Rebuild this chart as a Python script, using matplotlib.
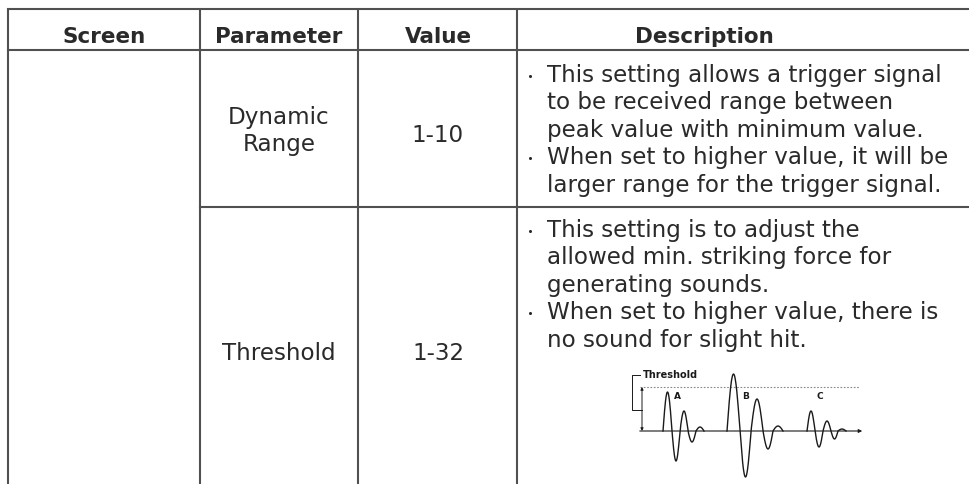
import numpy as np
import matplotlib
matplotlib.use("Agg")
import matplotlib.pyplot as plt

# table content
headers = ["Screen", "Parameter", "Value", "Description"]
param_names = ["Dynamic\nRange", "Threshold"]
param_values = ["1-10", "1-32"]
desc_row1 = [
    ["This setting allows a trigger signal",
     "to be received range between",
     "peak value with minimum value."],
    ["When set to higher value, it will be",
     "larger range for the trigger signal."],
]
desc_row2 = [
    ["This setting is to adjust the",
     "allowed min. striking force for",
     "generating sounds."],
    ["When set to higher value, there is",
     "no sound for slight hit."],
]

# waveform sketch: lobe amplitudes / widths (px) for hits A, B, C
wave_labels = ["A", "B", "C"]
wave_starts = [663, 727, 807]
wave_amps = [[39, -30, 20, -11, 4],
             [57, -46, 32, -18, 5],
             [20, -16, 10, -8, 2]]
wave_widths = [[9, 8, 8, 8, 8],
               [13, 11, 12, 10, 10],
               [8, 8, 8, 7, 8]]

W, H = 970, 485
col_x = [8, 200, 358, 517]
row_y = [10, 51, 207.5]
line_c = "#505050"
text_c = "#2a2a2a"
fs = 16.6

fig = plt.figure(figsize=(W / 100, H / 100), dpi=100)
ax = fig.add_axes([0, 0, 1, 1])
ax.set_xlim(0, W)
ax.set_ylim(H, 0)
ax.axis("off")

# grid
for x in col_x:
    ax.plot([x, x], [row_y[0], H], color=line_c, lw=1.5, solid_capstyle="butt")
ax.plot([col_x[0], W], [row_y[0]] * 2, color=line_c, lw=1.5)
ax.plot([col_x[0], W], [row_y[1]] * 2, color=line_c, lw=1.5)
ax.plot([col_x[1], W], [row_y[2]] * 2, color=line_c, lw=1.5)

# header
head_cx = [104, 279, 438, 704]
for cx, h in zip(head_cx, headers):
    ax.text(cx, 35, h, ha="center", va="center_baseline", fontsize=15.5,
            fontweight="bold", color=text_c)

# parameter / value cells
ax.text(279, 131, param_names[0], ha="center", va="center", fontsize=fs,
        color=text_c, linespacing=1.25)
ax.text(438, 133, param_values[0], ha="center", va="center_baseline",
        fontsize=fs, color=text_c)
ax.text(279, 351, param_names[1], ha="center", va="center_baseline",
        fontsize=fs, color=text_c)
ax.text(438, 351, param_values[1], ha="center", va="center_baseline",
        fontsize=fs, color=text_c)

# description bullets
def bullets(groups, y0, pitch=27.5):
    y = y0
    for g in groups:
        ax.plot(530, y - 5.5, "o", ms=2.2, color=text_c, mec="none")
        for ln in g:
            ax.text(547, y, ln, ha="left", va="baseline", fontsize=fs,
                    color=text_c)
            y += pitch

bullets(desc_row1, 82)
bullets(desc_row2, 237)

# waveform diagram
axis_y = 432
thr_y = 388
wc = "#1a1a1a"
ax.annotate("", xy=(865, axis_y), xytext=(637, axis_y),
            arrowprops=dict(arrowstyle="-|>", color=wc, lw=0.8,
                            mutation_scale=5))
ax.plot([640, 860], [thr_y, thr_y], color="#888888", lw=0.8, ls=(0, (1.5, 1.5)))
for lbl, x0, amps, wids in zip(wave_labels, wave_starts, wave_amps, wave_widths):
    xs, ys = [x0], [axis_y]
    x = x0
    for a, w in zip(amps, wids):
        t = np.linspace(0, 1, 30)
        xs.extend(x + t * w)
        ys.extend(axis_y - a * np.sin(np.pi * t))
        x += w
    ax.plot(xs, ys, color=wc, lw=1.0)
    ax.text(x0 + wids[0] + 2, 397, lbl, ha="left", va="center", fontsize=6.5,
            fontweight="bold", color=wc)

# threshold bracket and arrow
ax.plot([640, 632, 632, 642], [376, 376, 411, 411], color=wc, lw=0.7)
ax.annotate("", xy=(642, thr_y), xytext=(642, axis_y),
            arrowprops=dict(arrowstyle="<|-|>", color=wc, lw=0.7,
                            mutation_scale=4, shrinkA=0, shrinkB=0))
ax.text(643, 375, "Threshold", ha="left", va="center", fontsize=7,
        fontweight="bold", color=wc)

fig.savefig("out.png", dpi=100, facecolor="white")
